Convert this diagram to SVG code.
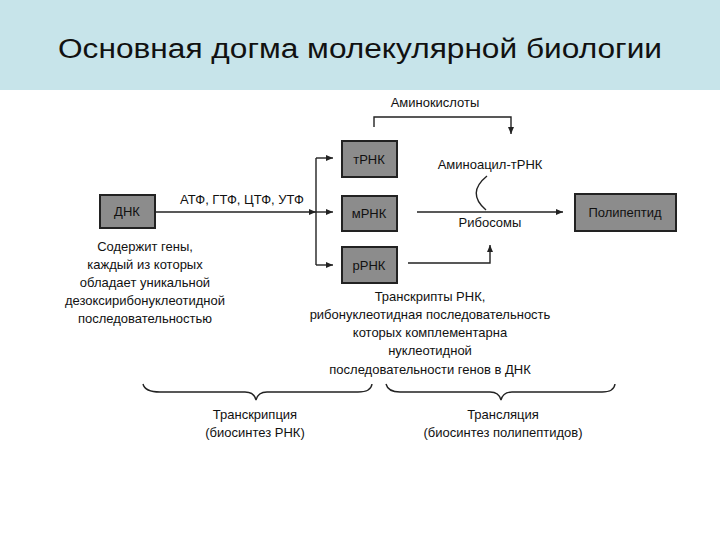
<svg xmlns="http://www.w3.org/2000/svg" width="720" height="540" viewBox="0 0 720 540">
<style>
.b{fill:#8c8c8c;stroke:#222;stroke-width:2}
.t{font-family:"Liberation Sans",Arial,sans-serif;font-size:13px;fill:#111;text-anchor:middle}
.l{fill:none;stroke:#222;stroke-width:1.4}
</style>
<defs><marker id="a" markerWidth="8" markerHeight="8" refX="7" refY="4" orient="auto" markerUnits="userSpaceOnUse"><path d="M0,1 L7,4 L0,7 Z" fill="#222"/></marker></defs>
<rect width="720" height="540" fill="#fff"/>
<rect width="720" height="90" fill="#c7e4ea"/>
<text x="58" y="58" textLength="604" lengthAdjust="spacingAndGlyphs" style="font-family:'Liberation Sans',Arial,sans-serif;font-size:27px;fill:#111">Основная догма молекулярной биологии</text>
<g id="connectors">
<path class="l" d="M156,212 H316" marker-end="url(#a)"/>
<path class="l" d="M316,158 V265"/>
<path class="l" d="M316,158 H333" marker-end="url(#a)"/>
<path class="l" d="M316,212 H333" marker-end="url(#a)"/>
<path class="l" d="M316,265 H333" marker-end="url(#a)"/>
<path class="l" d="M374,127 V117 H511 V134" marker-end="url(#a)"/>
<path class="l" d="M417,212 H563" marker-end="url(#a)"/>
<path class="l" d="M487,176 Q466,193 486,210"/>
<path class="l" d="M408,263 H490 V245" marker-end="url(#a)"/>
<path class="l" d="M143,384 Q145,392 160,392 H245 Q254,392 256,400 Q258,392 267,392 H358 Q371,392 372,384"/>
<path class="l" d="M386,384 Q388,392 400,392 H490 Q499,392 501,400 Q503,392 512,392 H602 Q614,392 615,384"/>
</g>
<g id="dnk"><rect class="b" x="100" y="195" width="55" height="33"/><text class="t" x="127" y="216">ДНК</text></g>
<g id="trnk"><rect class="b" x="342" y="141" width="55" height="36"/><text class="t" x="369" y="164">тРНК</text></g>
<g id="mrnk"><rect class="b" x="342" y="196" width="55" height="35"/><text class="t" x="369" y="218">мРНК</text></g>
<g id="rrnk"><rect class="b" x="342" y="247" width="55" height="36"/><text class="t" x="369" y="270">рРНК</text></g>
<g id="poly"><rect class="b" x="575" y="194" width="101" height="37"/><text class="t" x="625" y="217">Полипептид</text></g>
<g id="labels">
<text class="t" x="242" y="204">АТФ, ГТФ, ЦТФ, УТФ</text>
<text class="t" x="435" y="107">Аминокислоты</text>
<text class="t" x="490" y="169">Аминоацил-тРНК</text>
<text class="t" x="490" y="227">Рибосомы</text>
<text class="t" x="145" y="251">Содержит гены,</text>
<text class="t" x="145" y="269">каждый из которых</text>
<text class="t" x="145" y="287">обладает уникальной</text>
<text class="t" x="145" y="305">дезоксирибонуклеотидной</text>
<text class="t" x="145" y="323">последовательностью</text>
<text class="t" x="430" y="301">Транскрипты РНК,</text>
<text class="t" x="430" y="319">рибонуклеотидная последовательность</text>
<text class="t" x="430" y="337">которых комплементарна</text>
<text class="t" x="430" y="355">нуклеотидной</text>
<text class="t" x="430" y="374">последовательности генов в ДНК</text>
<text class="t" x="255" y="419">Транскрипция</text>
<text class="t" x="255" y="437">(биосинтез РНК)</text>
<text class="t" x="503" y="419">Трансляция</text>
<text class="t" x="503" y="437">(биосинтез полипептидов)</text>
</g>
</svg>
